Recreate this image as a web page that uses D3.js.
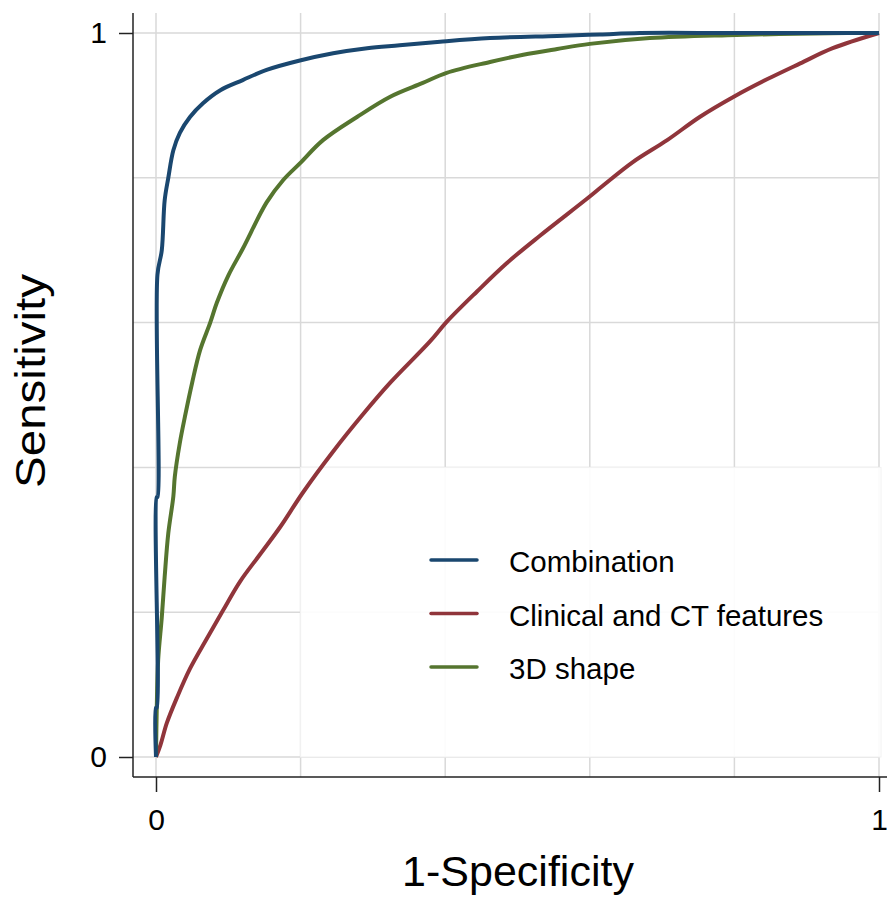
<!DOCTYPE html>
<html>
<head>
<meta charset="utf-8">
<script src="https://cdn.jsdelivr.net/npm/d3@7"></script>
<style>
  body { margin: 0; background: #fff; }
  svg text { font-family: Arial, "Liberation Sans", sans-serif; fill: #000; }
</style>
</head>
<body>
<div id="roc_chart"></div>
<script>
// ROC points (1-specificity, sensitivity)
var seriesNames = ["Combination", "Clinical and CT features", "3D shape"];

var fprCombination = [0, 0, 0.001, 0.001, 0.002, 0.002, 0.008, 0.012, 0.017, 0.024, 0.033,
  0.047, 0.065, 0.089, 0.12, 0.153, 0.199, 0.245, 0.292, 0.337, 0.393, 0.462, 0.555,
  0.614, 0.669, 0.8, 1];
var tprCombination = [0, 0.068, 0.068, 0.359, 0.359, 0.666, 0.7, 0.769, 0.8, 0.838, 0.862,
  0.884, 0.903, 0.921, 0.935, 0.949, 0.962, 0.972, 0.979, 0.983, 0.988, 0.993, 0.996,
  0.998, 1, 1, 1];

var fprClinical = [0, 0.006, 0.015, 0.029, 0.047, 0.07, 0.093, 0.116, 0.144, 0.172, 0.203,
  0.245, 0.286, 0.324, 0.379, 0.402, 0.444, 0.485, 0.531, 0.596, 0.618, 0.66, 0.707,
  0.752, 0.801, 0.845, 0.891, 0.936, 1];
var tprClinical = [0, 0.016, 0.047, 0.082, 0.122, 0.163, 0.203, 0.242, 0.28, 0.318, 0.365,
  0.422, 0.473, 0.517, 0.574, 0.601, 0.643, 0.682, 0.72, 0.771, 0.789, 0.822, 0.852,
  0.884, 0.913, 0.936, 0.958, 0.979, 1];

var fpr3D = [0, 0.001, 0.003, 0.008, 0.012, 0.017, 0.024, 0.026, 0.033, 0.04, 0.05, 0.061,
  0.075, 0.084, 0.1, 0.12, 0.153, 0.176, 0.199, 0.231, 0.278, 0.324, 0.369, 0.402, 0.462,
  0.508, 0.555, 0.6, 0.683, 0.79, 0.956, 1];
var tpr3D = [0, 0.065, 0.134, 0.193, 0.249, 0.309, 0.36, 0.387, 0.434, 0.47, 0.517, 0.562,
  0.6, 0.627, 0.665, 0.702, 0.766, 0.797, 0.82, 0.852, 0.884, 0.912, 0.931, 0.945, 0.96,
  0.97, 0.978, 0.985, 0.993, 0.997, 1, 1];

var gridTicks = [0, 0.2, 0.4, 0.6, 0.8, 1];
var axisTicks = [0, 1];
var colors = ["#1a476f", "#90353b", "#55752f"];

var width = 887, height = 898;

var svg = d3
  .select("#roc_chart")
  .append("svg")
  .attr("width", width)
  .attr("height", height);

var x = d3.scaleLinear().domain([0, 1]).range([156, 879]);
var y = d3.scaleLinear().domain([0, 1]).range([757, 33]);

// grid
svg
  .append("g")
  .selectAll("line")
  .data(gridTicks)
  .enter()
  .append("line")
  .attr("x1", function (d) { return x(d); })
  .attr("x2", function (d) { return x(d); })
  .attr("y1", 13)
  .attr("y2", 777)
  .attr("stroke", "#d9d9d9")
  .attr("stroke-width", 1.5);

svg
  .append("g")
  .selectAll("line")
  .data(gridTicks)
  .enter()
  .append("line")
  .attr("x1", 133)
  .attr("x2", x(1))
  .attr("y1", function (d) { return y(d); })
  .attr("y2", function (d) { return y(d); })
  .attr("stroke", "#d9d9d9")
  .attr("stroke-width", 1.5);

// legend box (sits over the grid, under the curves)
svg
  .append("rect")
  .attr("x", x(0.2))
  .attr("y", y(0.4))
  .attr("width", x(1) - x(0.2) + 2)
  .attr("height", y(0) - y(0.4))
  .attr("fill", "#fff")
  .attr("fill-opacity", 0.9)
  .attr("stroke", "#f2f2f2");

// axes
var yAxis = svg
  .append("g")
  .attr("transform", "translate(133,0)")
  .call(d3.axisLeft(y).tickValues(axisTicks).tickFormat(d3.format("d")).tickSize(14).tickPadding(12));
yAxis.select(".domain").remove();
yAxis.selectAll("line").attr("stroke", "#222").attr("stroke-width", 1.5);
yAxis.selectAll("text").style("font-size", "30px");

var xAxis = svg
  .append("g")
  .attr("transform", "translate(0,777)")
  .call(d3.axisBottom(x).tickValues(axisTicks).tickFormat(d3.format("d")).tickSize(15).tickPadding(17));
xAxis.select(".domain").remove();
xAxis.selectAll("line").attr("stroke", "#222").attr("stroke-width", 1.5);
xAxis.selectAll("text").style("font-size", "30px");

svg.append("line")
  .attr("x1", 133).attr("x2", 133)
  .attr("y1", 13).attr("y2", 777)
  .attr("stroke", "#222").attr("stroke-width", 1.5);
svg.append("line")
  .attr("x1", 133).attr("x2", width)
  .attr("y1", 777).attr("y2", 777)
  .attr("stroke", "#222").attr("stroke-width", 1.5);

// axis titles
svg
  .append("text")
  .attr("x", 518)
  .attr("y", 886)
  .attr("text-anchor", "middle")
  .style("font-size", "43px")
  .text("1-Specificity");

svg
  .append("text")
  .attr("transform", "translate(45,381) rotate(-90)")
  .attr("text-anchor", "middle")
  .attr("textLength", 214)
  .attr("lengthAdjust", "spacingAndGlyphs")
  .style("font-size", "43px")
  .text("Sensitivity");

// curves
var curves = [
  { name: seriesNames[0], fpr: fprCombination, tpr: tprCombination },
  { name: seriesNames[1], fpr: fprClinical, tpr: tprClinical },
  { name: seriesNames[2], fpr: fpr3D, tpr: tpr3D },
];

var line = d3
  .line()
  .curve(d3.curveCatmullRom.alpha(0.5))
  .x(function (d) { return x(d[0]); })
  .y(function (d) { return y(d[1]); });

// draw 3D shape and clinical first so combination sits on top at the left edge
[1, 2, 0].forEach(function (i) {
  var c = curves[i];
  var pts = c.fpr.map(function (f, j) { return [f, c.tpr[j]]; });
  svg
    .append("path")
    .datum(pts)
    .attr("d", line)
    .attr("fill", "none")
    .attr("stroke", colors[i])
    .attr("stroke-width", 4)
    .attr("stroke-linejoin", "round");
});

// legend
var legend = svg
  .append("g")
  .selectAll("g")
  .data(seriesNames)
  .enter()
  .append("g")
  .attr("transform", function (d, i) {
    return "translate(0," + (560 + i * 53.5) + ")";
  });

legend
  .append("line")
  .attr("x1", 431)
  .attr("x2", 477)
  .attr("stroke", function (d, i) { return colors[i]; })
  .attr("stroke-width", 3.5)
  .attr("stroke-linecap", "round");

legend
  .append("text")
  .attr("x", 509)
  .attr("y", 12)
  .style("font-size", "29.5px")
  .text(function (d) { return d; });
</script>
</body>
</html>
